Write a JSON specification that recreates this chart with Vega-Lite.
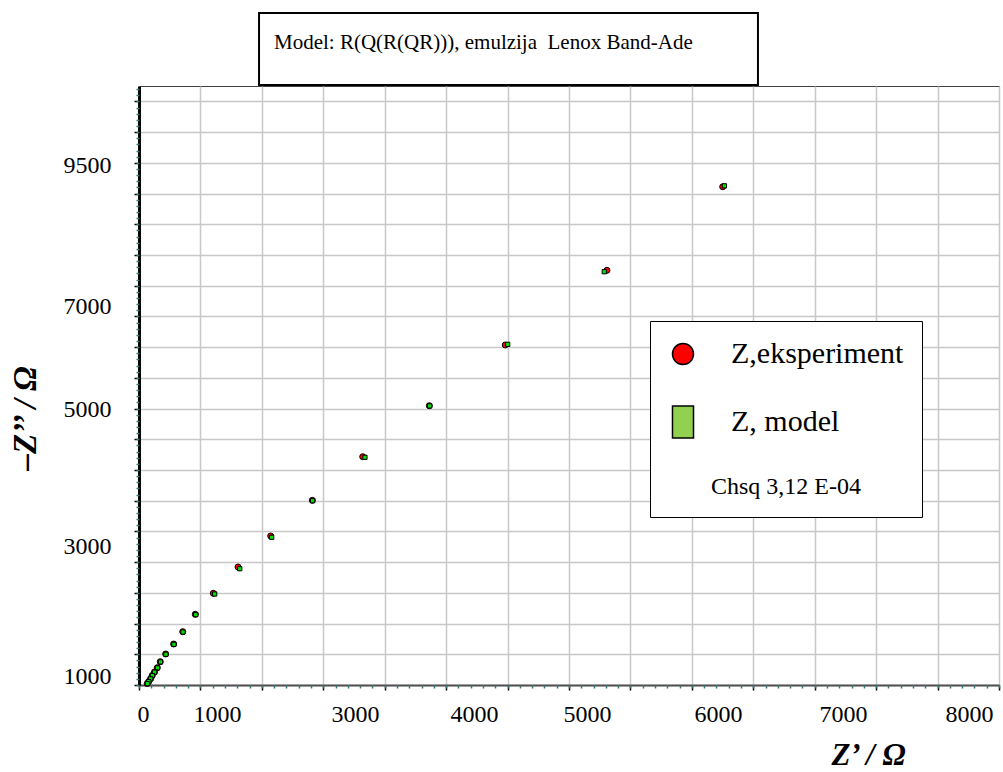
{
  "$schema": "https://vega.github.io/schema/vega-lite/v6.json",
  "width": 860,
  "height": 599,
  "autosize": "none",
  "padding": {"left": 139, "top": 86, "right": 4, "bottom": 87},
  "background": "white",
  "title": {
    "text": "Model: R(Q(R(QR))), emulzija\u00a0 Lenox Band-Ade",
    "anchor": "start",
    "frame": "group",
    "dx": 135,
    "offset": -62,
    "baseline": "bottom",
    "font": "Liberation Serif",
    "fontSize": 21,
    "fontWeight": "normal",
    "color": "black"
  },
  "data": {
    "values": [
      {"series": "Z,eksperiment", "zr": 4751, "zi": 8110},
      {"series": "Z,eksperiment", "zr": 3809, "zi": 6750},
      {"series": "Z,eksperiment", "zr": 2981, "zi": 5534},
      {"series": "Z,eksperiment", "zr": 2363, "zi": 4546},
      {"series": "Z,eksperiment", "zr": 1821, "zi": 3716},
      {"series": "Z,eksperiment", "zr": 1411, "zi": 3006},
      {"series": "Z,eksperiment", "zr": 1072, "zi": 2425},
      {"series": "Z,eksperiment", "zr": 806, "zi": 1921},
      {"series": "Z,eksperiment", "zr": 605, "zi": 1493},
      {"series": "Z,eksperiment", "zr": 458, "zi": 1151},
      {"series": "Z,eksperiment", "zr": 356, "zi": 868},
      {"series": "Z,eksperiment", "zr": 282, "zi": 667},
      {"series": "Z,eksperiment", "zr": 217, "zi": 505},
      {"series": "Z,eksperiment", "zr": 173, "zi": 379},
      {"series": "Z,eksperiment", "zr": 149, "zi": 282},
      {"series": "Z,eksperiment", "zr": 126, "zi": 212},
      {"series": "Z,eksperiment", "zr": 108, "zi": 155},
      {"series": "Z,eksperiment", "zr": 94, "zi": 103},
      {"series": "Z,eksperiment", "zr": 79, "zi": 57},
      {"series": "Z,eksperiment", "zr": 67, "zi": 24},
      {"series": "Z, model", "zr": 4765, "zi": 8125},
      {"series": "Z, model", "zr": 3787, "zi": 6727},
      {"series": "Z, model", "zr": 3001, "zi": 5545},
      {"series": "Z, model", "zr": 2366, "zi": 4543},
      {"series": "Z, model", "zr": 1839, "zi": 3706},
      {"series": "Z, model", "zr": 1413, "zi": 3000},
      {"series": "Z, model", "zr": 1080, "zi": 2404},
      {"series": "Z, model", "zr": 820, "zi": 1893},
      {"series": "Z, model", "zr": 616, "zi": 1481},
      {"series": "Z, model", "zr": 462, "zi": 1145},
      {"series": "Z, model", "zr": 358, "zi": 862},
      {"series": "Z, model", "zr": 284, "zi": 662},
      {"series": "Z, model", "zr": 219, "zi": 500},
      {"series": "Z, model", "zr": 175, "zi": 376},
      {"series": "Z, model", "zr": 150, "zi": 279},
      {"series": "Z, model", "zr": 127, "zi": 209},
      {"series": "Z, model", "zr": 109, "zi": 152},
      {"series": "Z, model", "zr": 95, "zi": 100},
      {"series": "Z, model", "zr": 80, "zi": 55},
      {"series": "Z, model", "zr": 68, "zi": 22}
    ]
  },
  "layer": [
    {
      "data": {"values": [{}]},
      "mark": {"type": "rect", "fill": "white", "stroke": "black", "strokeWidth": 2, "clip": false},
      "encoding": {
        "x": {
          "datum": 977, "type": "quantitative",
          "axis": {
            "orient": "bottom",
            "values": [33, 635, 1758, 2727, 3646, 4712, 5730, 6755],
            "labelExpr": "datum.value == 33 ? '0' : datum.value == 635 ? '1000' : datum.value == 1758 ? '3000' : datum.value == 2727 ? '4000' : datum.value == 3646 ? '5000' : datum.value == 4712 ? '6000' : datum.value == 5730 ? '7000' : '8000'",
            "grid": false, "domain": false, "ticks": false, "tickSize": 0,
            "labelFont": "Liberation Serif", "labelFontSize": 24, "labelColor": "black",
            "labelPadding": 17, "labelOverlap": false, "labelFlush": false, "labelBound": false, "labelAlign": "center",
            "title": null
          }
        },
        "x2": {"datum": 5038},
        "y": {
          "datum": 10937, "type": "quantitative",
          "axis": {
            "orient": "left",
            "values": [146, 2262, 4492, 6169, 8464],
            "labelExpr": "datum.value == 146 ? '1000' : datum.value == 2262 ? '3000' : datum.value == 4492 ? '5000' : datum.value == 6169 ? '7000' : '9500'",
            "grid": false, "domain": false, "ticks": false, "tickSize": 0,
            "labelFont": "Liberation Serif", "labelFontSize": 24, "labelColor": "black",
            "labelPadding": 28, "labelOverlap": false, "labelFlush": false, "labelBound": false,
            "labelAlign": "right", "labelBaseline": "middle",
            "title": null
          }
        },
        "y2": {"datum": 9766}
      }
    },
    {
      "transform": [{"filter": "datum.series === 'Z,eksperiment'"}],
      "mark": {"type": "point", "filled": true, "size": 36, "stroke": "black", "strokeWidth": 1, "opacity": 1, "clip": false},
      "encoding": {
        "x": {
          "field": "zr", "type": "quantitative",
          "scale": {"domain": [0, 7000], "nice": false, "zero": false},
          "axis": {
            "orient": "bottom",
            "values": [0, 500, 1000, 1500, 2000, 2500, 3000, 3500, 4000, 4500, 5000, 5500, 6000, 6500, 7000],
            "grid": true, "gridColor": "#c8c8c8", "gridWidth": 1.5,
            "domain": true, "domainColor": "#505050", "domainWidth": 2,
            "ticks": true, "tickColor": "black", "tickSize": 5, "tickWidth": 1.5,
            "labels": false,
            "title": "Z’ / Ω",
            "titleFont": "Liberation Serif", "titleFontSize": 31, "titleFontWeight": "bold", "titleFontStyle": "italic",
            "titleColor": "black", "titleX": 729, "titleY": 70, "titleAlign": "center", "titleBaseline": "middle"
          }
        },
        "y": {
          "field": "zi", "type": "quantitative",
          "scale": {"domain": [0, 9750], "nice": false, "zero": false},
          "axis": {
            "orient": "left",
            "values": [0, 500, 1000, 1500, 2000, 2500, 3000, 3500, 4000, 4500, 5000, 5500, 6000, 6500, 7000, 7500, 8000, 8500, 9000, 9500],
            "grid": true, "gridColor": "#c8c8c8", "gridWidth": 1.5,
            "domain": true, "domainColor": "black", "domainWidth": 3,
            "ticks": true, "tickColor": "black", "tickSize": 5, "tickWidth": 1.5,
            "labels": false,
            "title": "–Z’’ / Ω",
            "titleFont": "Liberation Serif", "titleFontSize": 33, "titleFontWeight": "bold", "titleFontStyle": "italic",
            "titleColor": "black", "titleX": -114, "titleY": 332, "titleAngle": 270, "titleAlign": "center", "titleBaseline": "middle"
          }
        },
        "color": {
          "field": "series", "type": "nominal",
          "scale": {"domain": ["Z,eksperiment", "Z, model"], "range": ["#FF0000", "#92D050"]},
          "legend": {
            "orient": "none", "legendX": 511, "legendY": 235,
            "title": "Chsq 3,12 E-04", "titleOrient": "bottom", "titleAnchor": "middle",
            "titleFont": "Liberation Serif", "titleFontSize": 24, "titleFontWeight": "normal", "titleColor": "black", "titlePadding": 34,
            "labelFont": "Liberation Serif", "labelFontSize": 30, "labelColor": "black", "labelOffset": 33, "labelLimit": 400,
            "symbolSize": 441, "symbolStrokeColor": "black", "symbolStrokeWidth": 1.5, "symbolOpacity": 1,
            "rowPadding": 34, "padding": 18,
            "fillColor": "white", "strokeColor": "black"
          }
        },
        "shape": {
          "field": "series", "type": "nominal",
          "scale": {"domain": ["Z,eksperiment", "Z, model"], "range": ["circle", "M-1,-1.52H1V1.52H-1Z"]}
        }
      }
    },
    {
      "transform": [{"filter": "datum.series === 'Z, model'"}],
      "mark": {"type": "point", "shape": "square", "filled": true, "size": 18, "fill": "#00E000", "stroke": "black", "strokeWidth": 1, "opacity": 1, "clip": false},
      "encoding": {
        "x": {
          "field": "zr", "type": "quantitative",
          "axis": {
            "orient": "bottom", "tickCount": 70, "grid": false, "domain": false, "labels": false,
            "ticks": true, "tickSize": 3, "tickColor": "#3a7878", "tickWidth": 1.5, "title": null
          }
        },
        "y": {
          "field": "zi", "type": "quantitative",
          "axis": {
            "orient": "left", "tickCount": 97, "grid": false, "domain": false, "labels": false,
            "ticks": true, "tickSize": 3, "tickColor": "#3a7878", "tickWidth": 1.5, "title": null
          }
        }
      }
    }
  ],
  "resolve": {"axis": {"x": "independent", "y": "independent"}},
  "config": {
    "view": {"stroke": "#404040", "strokeWidth": 1}
  }
}
